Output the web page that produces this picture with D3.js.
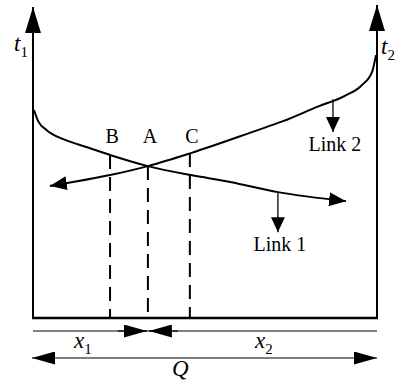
<!DOCTYPE html>
<html>
<head>
<meta charset="utf-8">
<script src="https://cdn.jsdelivr.net/npm/d3@7"></script>
<style>
  html, body { margin: 0; padding: 0; background: #fff; }
  text { font-family: "Liberation Serif", "Times New Roman", serif; fill: #000; }
</style>
</head>
<body>
<div id="chart"></div>
<script>
// curve data in (share of Q, time) units, both ordered by x
const link1 = [
  [0.3, 67.1], [1.5, 63.5], [4.0, 60.6], [9.0, 57.6], [16.0, 55.0],
  [22.4, 52.6], [33.4, 49.0], [45.9, 46.1], [57.3, 43.9], [71.2, 40.6], [91.0, 37.7]
];
const link2 = [
  [4.9, 42.6], [22.4, 46.1], [33.4, 49.0], [45.9, 53.2], [64.5, 60.3], [72.7, 63.5],
  [82.6, 68.1], [90.5, 71.6], [95.5, 75.0], [98.6, 79.5], [99.7, 84.8]
];
const points = [
  { name: "B", x: 22.4, y: 52.6 },
  { name: "A", x: 33.4, y: 49.0 },
  { name: "C", x: 45.6, y: 53.2 }
];
const linkLabels = [
  { name: "Link 1", x: 71.2, y0: 40.6, y1: 27.7 },
  { name: "Link 2", x: 87.2, y0: 70.6, y1: 60.0 }
];

const width = 402, height = 384;
const x = d3.scaleLinear().domain([0, 100]).range([33, 377]);
const y = d3.scaleLinear().domain([0, 100]).range([318, 8]);

const svg = d3.select("#chart").append("svg")
  .attr("width", width).attr("height", height);

const defs = svg.append("defs");
function marker(id, len, half) {
  defs.append("marker")
    .attr("id", id)
    .attr("markerUnits", "userSpaceOnUse")
    .attr("viewBox", `${-len} ${-half} ${len} ${half * 2}`)
    .attr("refX", 0).attr("refY", 0)
    .attr("markerWidth", len).attr("markerHeight", half * 2)
    .attr("orient", "auto-start-reverse")
    .append("path")
    .attr("d", `M0,0L${-len},${-half}L${-len},${half}Z`)
    .attr("fill", "#000");
}
marker("axisHead", 26, 8);
marker("curveHead", 17, 7);
marker("dimHead", 23, 6.5);
marker("linkHead", 15, 7);

// frame: two time axes + bottom
svg.append("line")
  .attr("x1", x(0)).attr("y1", y(0)).attr("x2", x(0)).attr("y2", y(100.3))
  .attr("stroke", "#000").attr("stroke-width", 2)
  .attr("marker-end", "url(#axisHead)");
svg.append("line")
  .attr("x1", x(100)).attr("y1", y(0)).attr("x2", x(100)).attr("y2", y(101))
  .attr("stroke", "#000").attr("stroke-width", 2)
  .attr("marker-end", "url(#axisHead)");
svg.append("line")
  .attr("x1", x(0) - 1).attr("y1", y(0)).attr("x2", x(100) + 1).attr("y2", y(0))
  .attr("stroke", "#000").attr("stroke-width", 2.5);

// dashed drop lines
svg.selectAll(".drop").data(points).enter().append("line")
  .attr("class", "drop")
  .attr("x1", d => x(d.x)).attr("x2", d => x(d.x))
  .attr("y1", d => y(d.y)).attr("y2", y(0))
  .attr("stroke", "#000").attr("stroke-width", 2)
  .attr("stroke-dasharray", "14,8");

svg.selectAll(".plabel").data(points).enter().append("text")
  .attr("x", d => x(d.x) + 2).attr("y", 143)
  .attr("text-anchor", "middle")
  .style("font-size", "20px")
  .text(d => d.name);

// curves
const line = d3.line().x(d => x(d[0])).y(d => y(d[1])).curve(d3.curveMonotoneX);
svg.append("path").datum(link1)
  .attr("d", line).attr("fill", "none")
  .attr("stroke", "#000").attr("stroke-width", 2)
  .attr("marker-end", "url(#curveHead)");
svg.append("path").datum(link2)
  .attr("d", line).attr("fill", "none")
  .attr("stroke", "#000").attr("stroke-width", 2)
  .attr("marker-start", "url(#curveHead)");

// link pointers
svg.selectAll(".lk").data(linkLabels).enter().append("line")
  .attr("x1", d => x(d.x)).attr("x2", d => x(d.x))
  .attr("y1", d => y(d.y0)).attr("y2", d => y(d.y1))
  .attr("stroke", "#000").attr("stroke-width", 1.3)
  .attr("marker-end", "url(#linkHead)");
svg.selectAll(".lkt").data(linkLabels).enter().append("text")
  .attr("x", d => x(d.x) + 2).attr("y", d => y(d.y1) + 19)
  .attr("text-anchor", "middle")
  .style("font-size", "20px")
  .text(d => d.name);

// dimension lines x1 / x2 and Q
const A = points.find(p => p.name === "A");
svg.append("line")
  .attr("x1", x(0)).attr("x2", x(100)).attr("y1", 331).attr("y2", 331)
  .attr("stroke", "#000").attr("stroke-width", 1.2);
svg.append("line")
  .attr("x1", x(A.x) - 30).attr("x2", x(A.x) - 1).attr("y1", 331).attr("y2", 331)
  .attr("stroke", "#000").attr("stroke-width", 1.2)
  .attr("marker-end", "url(#dimHead)");
svg.append("line")
  .attr("x1", x(A.x) + 30).attr("x2", x(A.x) + 1).attr("y1", 331).attr("y2", 331)
  .attr("stroke", "#000").attr("stroke-width", 1.2)
  .attr("marker-end", "url(#dimHead)");
svg.append("line")
  .attr("x1", x(0) - 1).attr("x2", x(100)).attr("y1", 358).attr("y2", 358)
  .attr("stroke", "#000").attr("stroke-width", 1.2)
  .attr("marker-start", "url(#dimHead)")
  .attr("marker-end", "url(#dimHead)");

function subLabel(px, py, main, sub) {
  const t = svg.append("text").attr("x", px).attr("y", py)
    .style("font-size", "23px").style("font-style", "italic");
  t.append("tspan").text(main);
  if (sub) t.append("tspan").attr("dy", 6).style("font-size", "15px")
    .style("font-style", "normal").text(sub);
}
subLabel(74, 348, "x", "1");
subLabel(255, 348, "x", "2");
subLabel(172, 376, "Q", null);
subLabel(14, 51, "t", "1");
subLabel(381, 54, "t", "2");
</script>
</body>
</html>
